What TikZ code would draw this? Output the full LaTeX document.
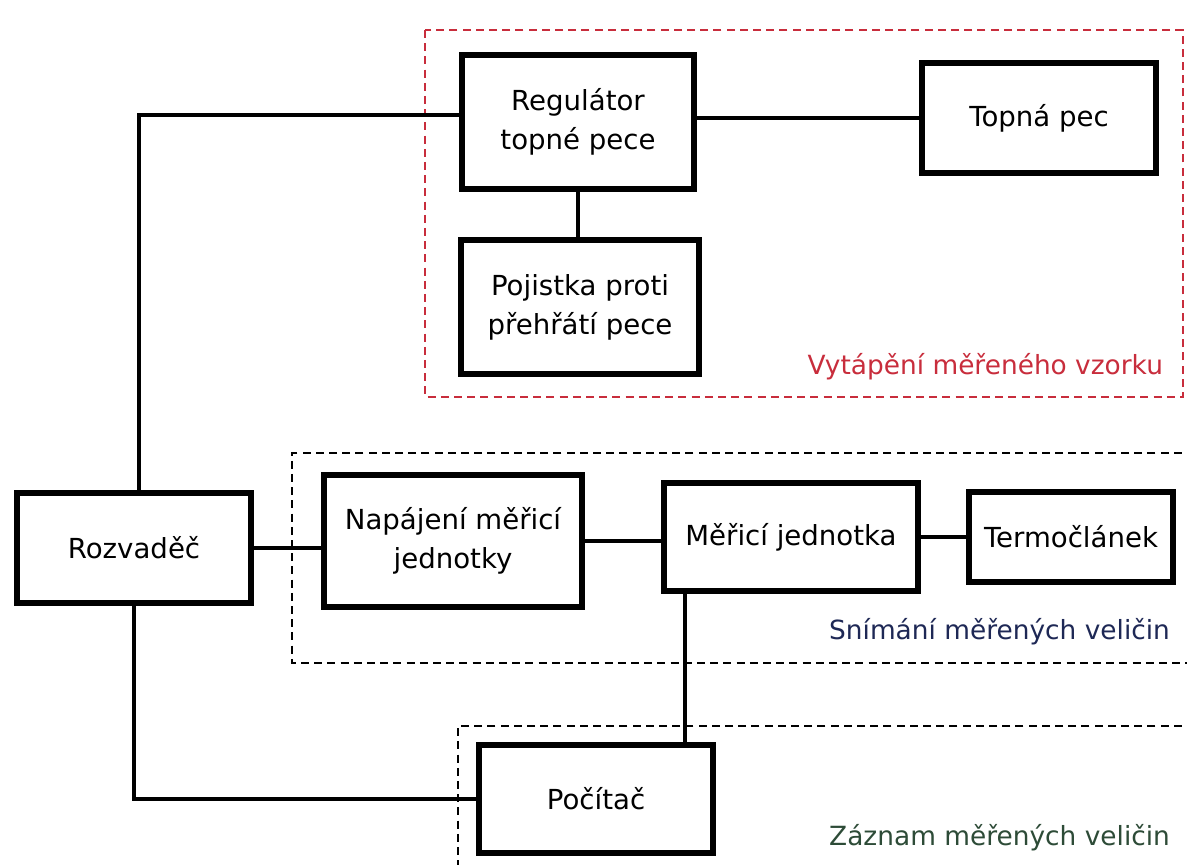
\documentclass[tikz,border=0pt]{standalone}
\usepackage{fontspec}
\setmainfont{DejaVu Sans}
\usetikzlibrary{calc}
\definecolor{cervena}{RGB}{200,45,60}
\definecolor{modra}{RGB}{30,40,85}
\definecolor{zelena}{RGB}{45,75,55}
\tikzset{
  blok/.style={draw, line width=2.8pt, align=center, inner sep=0pt,
    font=\fontsize{13.8}{19.5}\selectfont},
  spoj/.style={line width=1.8pt},
  oblast/.style={line width=0.8pt, dash pattern=on 4pt off 2.6pt},
  popis/.style={anchor=east, font=\fontsize{13.2}{16}\selectfont}
}
\begin{document}
\begin{tikzpicture}[x=0.5pt, y=-0.5pt]
\useasboundingbox (0,0) rectangle (1187,865);
% oblasti
\draw[oblast, cervena] (425,30) rectangle (1183,397);
\draw[oblast] (1195,453) -- (292,453) -- (292,663) -- (1195,663);
\draw[oblast] (1195,726) -- (458,726) -- (458,875);
% bloky
\node[blok, minimum width=116pt, minimum height=67pt] (reg) at (578,122) {Regulátor\\topné pece};
\node[blok, minimum width=117pt, minimum height=55pt] (pec) at (1039,118) {Topná pec};
\node[blok, minimum width=119pt, minimum height=67pt] (poj) at (580,307) {Pojistka proti\\přehřátí pece};
\node[blok, minimum width=117pt, minimum height=55pt] (rozv) at (134,548) {Rozvaděč};
\node[blok, minimum width=129pt, minimum height=66pt] (napaj) at (453,541) {Napájení měřicí\\jednotky};
\node[blok, minimum width=127pt, minimum height=54pt] (meric) at (791,537) {Měřicí jednotka};
\node[blok, minimum width=102pt, minimum height=45pt] (termo) at (1071,537) {Termočlánek};
\node[blok, minimum width=117pt, minimum height=54pt] (pocit) at (596,799) {Počítač};
% popisy oblasti
\node[popis, text=cervena] (vyt) at (1170,367) {Vytápění měřeného vzorku};
\node[popis, text=modra] (snim) at (1177,632) {Snímání měřených veličin};
\node[popis, text=zelena] (zazn) at (1177,838) {Záznam měřených veličin};
% spoje
\draw[spoj] (reg.east |- pec.west) -- (pec.west);
\draw[spoj] (reg.south) -- (reg.south |- poj.north);
\draw[spoj] ([xshift=2.5pt]rozv.north) |- ($(reg.west)+(0,-7)$);
\draw[spoj] (rozv.south) |- (pocit.west);
\draw[spoj] (rozv.east) -- (rozv.east -| napaj.west);
\draw[spoj] (napaj.east) -- (napaj.east -| meric.west);
\draw[spoj] (meric.east) -- (termo.west);
\draw[spoj] ([xshift=12pt]meric.south west) -- ([xshift=12pt]meric.south west |- pocit.north);
\end{tikzpicture}
\end{document}
